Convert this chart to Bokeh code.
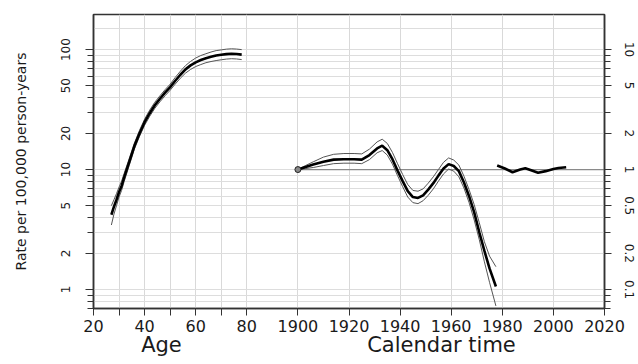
from bokeh.plotting import figure
from bokeh.models import Range1d, LogAxis, LinearAxis, FixedTicker, LogScale
from bokeh.embed import file_html
from bokeh.resources import INLINE

# ---------------- data ----------------
AGE = [27, 28, 29, 30, 31, 32, 34, 36, 38, 40, 42, 44, 46, 48, 50, 52, 54, 56, 58, 60,
       62, 64, 66, 68, 70, 72, 74, 76, 78]
AGE_RATE = [4.2, 4.9, 5.6, 6.5, 7.3, 8.6, 11.6, 15.7, 20.0, 24.8, 29.5, 34.3, 38.9, 43.7,
            48.6, 55.0, 61.7, 68.4, 73.8, 78.3, 81.8, 84.7, 87.1, 89.1, 90.4, 91.6, 92.3,
            91.8, 90.8]
AGE_UPPER = [5.0, 5.6, 6.3, 7.15, 8.0, 9.3, 12.4, 16.6, 21.2, 26.3, 31.3, 36.4, 41.2, 46.3,
             51.5, 58.6, 66.0, 73.5, 79.7, 85.0, 89.2, 92.3, 95.4, 98.0, 99.4, 100.8, 101.5,
             101.0, 99.9]
AGE_LOWER = [3.45, 4.25, 5.0, 5.9, 6.7, 7.95, 10.85, 14.8, 18.9, 23.4, 27.8, 32.4, 36.7, 41.2,
             45.8, 51.6, 57.7, 63.6, 68.3, 72.2, 75.0, 77.7, 79.5, 81.0, 82.2, 83.3, 83.9,
             83.5, 82.5]

COHORT_YEAR = [1900, 1903, 1906, 1910, 1914, 1918, 1922, 1925, 1928, 1931, 1933, 1935, 1937,
               1939, 1941, 1943, 1945, 1947, 1949, 1951, 1953, 1955, 1957, 1959, 1961, 1963,
               1965, 1967, 1969, 1971, 1973, 1975, 1977.5]
COHORT_RR = [1.00, 1.05, 1.10, 1.16, 1.21, 1.22, 1.22, 1.21, 1.32, 1.50, 1.58, 1.45, 1.22,
             0.98, 0.80, 0.66, 0.59, 0.58, 0.61, 0.68, 0.77, 0.89, 1.02, 1.11, 1.07, 0.97,
             0.78, 0.60, 0.44, 0.30, 0.21, 0.15, 0.106]
COHORT_UPPER = [1.00, 1.08, 1.16, 1.27, 1.34, 1.36, 1.36, 1.35, 1.48, 1.70, 1.79, 1.65, 1.39,
                1.12, 0.91, 0.75, 0.67, 0.66, 0.69, 0.77, 0.87, 1.00, 1.15, 1.25, 1.20, 1.09,
                0.88, 0.68, 0.51, 0.36, 0.25, 0.19, 0.155]
COHORT_LOWER = [1.00, 1.02, 1.04, 1.08, 1.12, 1.13, 1.13, 1.12, 1.21, 1.38, 1.44, 1.32, 1.11,
                0.89, 0.72, 0.59, 0.53, 0.52, 0.55, 0.61, 0.69, 0.80, 0.92, 1.01, 0.97, 0.87,
                0.70, 0.53, 0.38, 0.26, 0.17, 0.115, 0.073]

PERIOD_YEAR = [1978, 1981, 1984, 1987, 1989, 1991, 1994, 1997, 2000, 2002, 2005]
PERIOD_RR = [1.08, 1.02, 0.95, 1.00, 1.025, 0.99, 0.94, 0.97, 1.01, 1.03, 1.045]

REF_YEAR = 1900
REF_RR = 1.0

AGE_TICKS = [20, 30, 40, 50, 60, 70, 80]
AGE_TICK_LABELS = ["20", "", "40", "", "60", "", "80"]
CAL_TICKS = [1900, 1920, 1940, 1960, 1980, 2000, 2020]
RATE_TICKS = [1, 2, 5, 10, 20, 50, 100]
RATE_MINOR = [0.7, 0.8, 0.9, 3, 4, 6, 7, 8, 9, 30, 40, 60, 70, 80, 90]
RATE_GRID_EXTRA = [150]
RR_TICKS = [0.1, 0.2, 0.5, 1, 2, 5, 10]
RR_LABELS = ["0.1", "0.2", "0.5", "1", "2", "5", "10"]
RR_MINOR = [0.07, 0.08, 0.09, 0.3, 0.4, 0.6, 0.7, 0.8, 0.9, 3, 4, 6, 7, 8, 9]

# axis titles below the shared horizontal axis (centre of each part)
AGE_TITLE, AGE_TITLE_AT = "Age", 46.6
CAL_TITLE, CAL_TITLE_AT = "Calendar time", 1956.2

# axis ranges: one shared horizontal axis, age part then calendar part
AGE_RANGE = (20, 220)
CAL_RANGE = (1820, 2020)
OFFSET = CAL_RANGE[0] - AGE_RANGE[0]
RATE_RANGE = (0.695, 196)
RR_RANGE = (0.0695, 19.6)

FONT = "DejaVu Sans"
TXT = "#1a1a1a"
AX = "#333333"

p = figure(width=638, height=364, output_backend="svg", toolbar_location=None,
           x_range=Range1d(*AGE_RANGE), y_range=Range1d(*RATE_RANGE), y_axis_type="log",
           min_border_left=93, min_border_right=34, min_border_top=14, min_border_bottom=56,
           background_fill_color="white", border_fill_color="white")
p.extra_x_ranges = {"cal": Range1d(*CAL_RANGE)}
p.extra_y_ranges = {"rr": Range1d(*RR_RANGE)}
p.extra_y_scales = {"rr": LogScale()}

p.outline_line_color = AX
p.outline_line_width = 1.5

# grids
grid_x = AGE_TICKS[1:] + [t - OFFSET for t in CAL_TICKS[:-1]]
p.xgrid.ticker = FixedTicker(ticks=grid_x)
p.xgrid.grid_line_color = "#d9d9d9"
p.ygrid.ticker = FixedTicker(ticks=RATE_TICKS, minor_ticks=RATE_MINOR + RATE_GRID_EXTRA)
p.ygrid.grid_line_color = "#dddddd"
p.ygrid.minor_grid_line_color = "#dddddd"

# bottom axis
xa = p.xaxis[0]
xa.ticker = FixedTicker(ticks=AGE_TICKS + [t - OFFSET for t in CAL_TICKS])
overrides = {t: l for t, l in zip(AGE_TICKS, AGE_TICK_LABELS)}
overrides.update({t - OFFSET: str(t) for t in CAL_TICKS})
xa.major_label_overrides = overrides
xa.major_tick_out = 7
xa.major_tick_in = 0
xa.minor_tick_line_color = None
xa.major_label_standoff = 4
xa.major_label_text_font = FONT
xa.major_label_text_font_size = "16px"
xa.major_label_text_color = TXT
xa.axis_line_color = AX
xa.axis_line_width = 1.5
xa.major_tick_line_color = AX

# second "axis" carrying the two horizontal titles
ta = LinearAxis(ticker=FixedTicker(ticks=[AGE_TITLE_AT, CAL_TITLE_AT - OFFSET]))
ta.major_label_overrides = {AGE_TITLE_AT: AGE_TITLE, CAL_TITLE_AT - OFFSET: CAL_TITLE}
ta.axis_line_color = None
ta.major_tick_line_color = None
ta.minor_tick_line_color = None
ta.major_tick_out = 0
ta.major_tick_in = 0
ta.major_label_standoff = -2
ta.major_label_text_font = FONT
ta.major_label_text_font_size = "21px"
ta.major_label_text_color = TXT
p.add_layout(ta, "below")

# left axis
ya = p.yaxis[0]
ya.ticker = FixedTicker(ticks=RATE_TICKS, minor_ticks=RATE_MINOR)
ya.major_label_overrides = {t: str(t) for t in RATE_TICKS}
ya.major_label_orientation = "vertical"
ya.major_tick_out = 8
ya.major_tick_in = 0
ya.minor_tick_out = 6
ya.minor_tick_in = 0
ya.major_label_standoff = 15
ya.major_label_text_font = FONT
ya.major_label_text_font_size = "12px"
ya.major_label_text_color = TXT
ya.axis_line_color = AX
ya.axis_line_width = 1.5
ya.major_tick_line_color = AX
ya.minor_tick_line_color = AX
ya.axis_label = "Rate per 100,000 person-years"
ya.axis_label_text_font = FONT
ya.axis_label_text_font_size = "14px"
ya.axis_label_text_font_style = "normal"
ya.axis_label_text_color = TXT
ya.axis_label_standoff = 30

# right axis (rate ratio)
ra = LogAxis(y_range_name="rr",
             ticker=FixedTicker(ticks=RR_TICKS, minor_ticks=RR_MINOR))
ra.major_label_overrides = {t: l for t, l in zip(RR_TICKS, RR_LABELS)}
ra.major_label_orientation = "vertical"
ra.major_tick_out = 7
ra.major_tick_in = 0
ra.minor_tick_out = 6
ra.minor_tick_in = 0
ra.major_label_standoff = 13
ra.major_label_text_font = FONT
ra.major_label_text_font_size = "12px"
ra.major_label_text_color = TXT
ra.axis_line_color = AX
ra.axis_line_width = 1.5
ra.major_tick_line_color = AX
ra.minor_tick_line_color = AX
p.add_layout(ra, "right")

# reference line at RR = 1
p.segment(x0=[REF_YEAR], y0=[REF_RR], x1=[CAL_RANGE[1]], y1=[REF_RR],
          x_range_name="cal", y_range_name="rr", line_color="#8a8a8a", line_width=1.2)

# age curve
CI_COL = "#555555"
p.line(AGE, AGE_UPPER, line_color=CI_COL, line_width=1)
p.line(AGE, AGE_LOWER, line_color=CI_COL, line_width=1)
p.line(AGE, AGE_RATE, line_color="black", line_width=2.6)

# cohort curve
p.line(COHORT_YEAR, COHORT_UPPER, x_range_name="cal", y_range_name="rr",
       line_color=CI_COL, line_width=1)
p.line(COHORT_YEAR, COHORT_LOWER, x_range_name="cal", y_range_name="rr",
       line_color=CI_COL, line_width=1)
p.line(COHORT_YEAR, COHORT_RR, x_range_name="cal", y_range_name="rr",
       line_color="black", line_width=2.6)
p.scatter([REF_YEAR], [REF_RR], x_range_name="cal", y_range_name="rr", size=6,
          fill_color="#888888", line_color="#222222", line_width=1)

# period curve
p.line(PERIOD_YEAR, PERIOD_RR, x_range_name="cal", y_range_name="rr",
       line_color="black", line_width=2.6)

open("out.html", "w").write(file_html(p, INLINE))
